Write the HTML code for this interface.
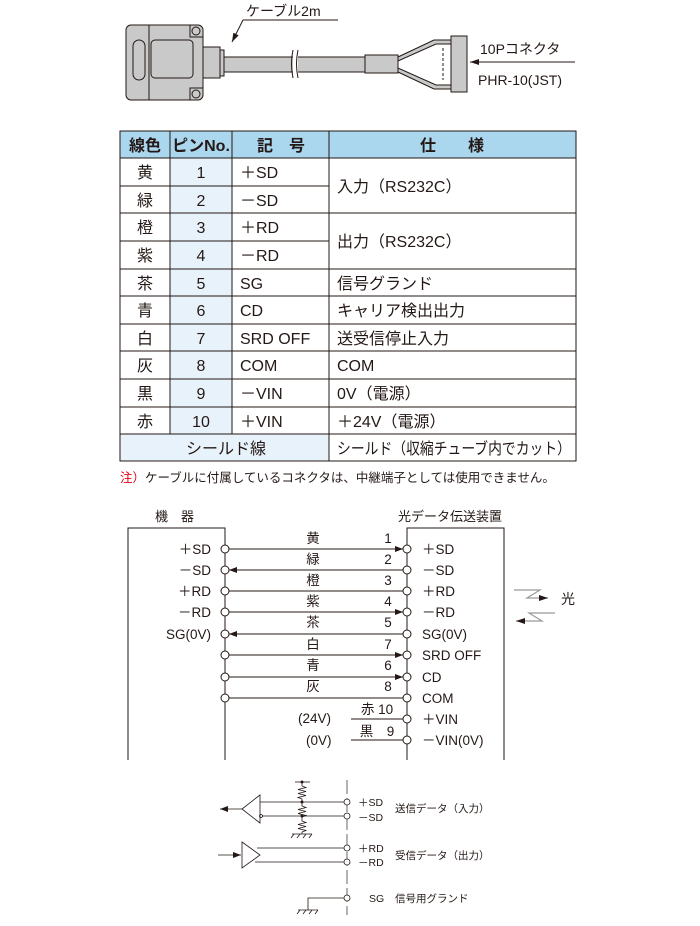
<!DOCTYPE html>
<html><head><meta charset="utf-8"><style>
html,body{margin:0;padding:0;background:#fff;}
svg{display:block;}
text{font-family:"Liberation Sans","Noto Sans CJK JP",sans-serif;fill:#231815;}
</style></head><body>
<svg width="700" height="926" viewBox="0 0 700 926" xmlns="http://www.w3.org/2000/svg">
<defs>
<marker id="ar" markerWidth="8" markerHeight="6" refX="8" refY="3" orient="auto" markerUnits="userSpaceOnUse"><path d="M0,0 L8,3 L0,6 z" fill="#231815"/></marker>
<marker id="ag" markerWidth="9" markerHeight="6" refX="9" refY="3" orient="auto" markerUnits="userSpaceOnUse"><path d="M0,0 L9,3 L0,6 z" fill="#231815"/></marker>
</defs>
<!-- top cable drawing -->
<g stroke="#231815" stroke-width="1">
<rect x="126" y="25" width="77" height="75" rx="5" fill="#c9c9c9"/>
<line x1="149" y1="25" x2="149" y2="100"/>
<rect x="151" y="40" width="42" height="38" rx="4" fill="#c9c9c9"/>
<rect x="133" y="40" width="12" height="40" rx="6" fill="#c9c9c9"/>
<circle cx="196" cy="31" r="4" fill="#c9c9c9"/><circle cx="196" cy="94" r="4" fill="#c9c9c9"/>
<path d="M190,25 v12 h13" fill="none"/><path d="M190,100 v-12 h13" fill="none"/>
<rect x="203" y="47" width="17" height="31" fill="#c9c9c9"/>
<rect x="220" y="50" width="4" height="26" fill="#c9c9c9"/>
<rect x="224" y="57" width="141" height="15" fill="#c9c9c9"/>
<rect x="365" y="55" width="33" height="18" fill="#c9c9c9"/>
<path d="M398,57 L434,40 L451,40 L451,44 L436,44 L398,61 z" fill="#c9c9c9"/>
<path d="M398,72 L434,89 L451,89 L451,85 L436,85 L398,68 z" fill="#c9c9c9"/>
<rect x="451" y="36" width="16" height="56" fill="#c9c9c9"/>
<line x1="443" y1="48" x2="443" y2="80" stroke-dasharray="3,2"/>
<line x1="243" y1="20" x2="338" y2="20"/>
<line x1="243" y1="20" x2="232" y2="42" marker-end="url(#ag)"/>
<line x1="575" y1="62" x2="470" y2="62" marker-end="url(#ag)"/>
</g>
<rect x="293" y="50" width="5" height="28" fill="#fff"/>
<path d="M293,50 q-3,14 0,28 M298,50 q-3,14 0,28" stroke="#231815" fill="none"/>
<text x="246" y="16" font-size="14">ケーブル2m</text>
<text x="480" y="54" font-size="14">10Pコネクタ</text>
<text x="478" y="85" font-size="14">PHR-10(JST)</text>

<!-- table -->
<rect x="120" y="131" width="456" height="27" fill="#aad6ee"/>
<rect x="170" y="158" width="62" height="276" fill="#e8f2fb"/>
<rect x="120" y="434" width="209" height="27" fill="#e8f2fb"/>
<g stroke="#231815" stroke-width="1" fill="none">
<rect x="120" y="131" width="456" height="330"/>
<line x1="170" y1="131" x2="170" y2="434"/>
<line x1="232" y1="131" x2="232" y2="434"/>
<line x1="329" y1="131" x2="329" y2="461"/>
<line x1="120" y1="158" x2="576" y2="158"/>
<line x1="120" y1="186" x2="329" y2="186"/>
<line x1="120" y1="213" x2="576" y2="213"/>
<line x1="120" y1="241" x2="329" y2="241"/>
<line x1="120" y1="269" x2="576" y2="269"/>
<line x1="120" y1="296" x2="576" y2="296"/>
<line x1="120" y1="324" x2="576" y2="324"/>
<line x1="120" y1="351" x2="576" y2="351"/>
<line x1="120" y1="379" x2="576" y2="379"/>
<line x1="120" y1="407" x2="576" y2="407"/>
<line x1="120" y1="434" x2="576" y2="434"/>
</g>
<g font-size="16">
<text x="145" y="151" text-anchor="middle" font-weight="bold">線色</text>
<text x="201" y="151" text-anchor="middle" font-weight="bold">ピンNo.</text>
<text x="281" y="151" text-anchor="middle" font-weight="bold">記　号</text>
<text x="452" y="151" text-anchor="middle" font-weight="bold">仕　　様</text>
</g>
<g font-size="16" text-anchor="middle">
<text x="145" y="178">黄</text><text x="201" y="178">1</text>
<text x="145" y="206">緑</text><text x="201" y="206">2</text>
<text x="145" y="233">橙</text><text x="201" y="233">3</text>
<text x="145" y="261">紫</text><text x="201" y="261">4</text>
<text x="145" y="289">茶</text><text x="201" y="289">5</text>
<text x="145" y="316">青</text><text x="201" y="316">6</text>
<text x="145" y="344">白</text><text x="201" y="344">7</text>
<text x="145" y="371">灰</text><text x="201" y="371">8</text>
<text x="145" y="399">黒</text><text x="201" y="399">9</text>
<text x="145" y="427">赤</text><text x="201" y="427">10</text>
<text x="226" y="454">シールド線</text>
</g>
<g font-size="16">
<text x="240" y="178">＋SD</text><text x="240" y="206">－SD</text>
<text x="240" y="233">＋RD</text><text x="240" y="261">－RD</text>
<text x="240" y="289">SG</text><text x="240" y="316">CD</text>
<text x="240" y="344">SRD OFF</text><text x="240" y="371">COM</text>
<text x="240" y="399">－VIN</text><text x="240" y="427">＋VIN</text>
<text x="337" y="192">入力（RS232C）</text>
<text x="337" y="247">出力（RS232C）</text>
<text x="337" y="289">信号グランド</text>
<text x="337" y="316">キャリア検出出力</text>
<text x="337" y="344">送受信停止入力</text>
<text x="337" y="371">COM</text>
<text x="337" y="399">0V（電源）</text>
<text x="337" y="427">＋24V（電源）</text>
<text x="337" y="454" textLength="234" lengthAdjust="spacingAndGlyphs">シールド（収縮チューブ内でカット）</text>
</g>
<text x="120" y="482" font-size="12.5"><tspan fill="#e60012" style="fill:#e60012">注）</tspan>ケーブルに付属しているコネクタは、中継端子としては使用できません。</text>

<!-- wiring diagram -->
<text x="155" y="521" font-size="13">機　器</text>
<text x="398" y="521" font-size="13">光データ伝送装置</text>
<g stroke="#231815" stroke-width="1" fill="none">
<path d="M128,760 V528 H225 V760"/>
<path d="M407,760 V528 H504 V760"/>
<line x1="229" y1="549" x2="403" y2="549" marker-end="url(#ar)"/>
<line x1="403" y1="570" x2="229" y2="570" marker-end="url(#ar)"/>
<line x1="229" y1="591" x2="403" y2="591"/>
<line x1="229" y1="612" x2="403" y2="612" marker-end="url(#ar)"/>
<line x1="403" y1="634" x2="229" y2="634" marker-end="url(#ar)"/>
<line x1="229" y1="655" x2="403" y2="655" marker-end="url(#ar)"/>
<line x1="229" y1="677" x2="403" y2="677" marker-end="url(#ar)"/>
<line x1="229" y1="698" x2="403" y2="698"/>
<line x1="351" y1="719" x2="403" y2="719"/>
<line x1="351" y1="740" x2="403" y2="740"/>
<g fill="#fff">
<circle cx="225" cy="549" r="4"/><circle cx="225" cy="570" r="4"/><circle cx="225" cy="591" r="4"/><circle cx="225" cy="612" r="4"/><circle cx="225" cy="634" r="4"/><circle cx="225" cy="655" r="4"/><circle cx="225" cy="677" r="4"/><circle cx="225" cy="698" r="4"/>
<circle cx="407" cy="549" r="4"/><circle cx="407" cy="570" r="4"/><circle cx="407" cy="591" r="4"/><circle cx="407" cy="612" r="4"/><circle cx="407" cy="634" r="4"/><circle cx="407" cy="655" r="4"/><circle cx="407" cy="677" r="4"/><circle cx="407" cy="698" r="4"/><circle cx="407" cy="719" r="4"/><circle cx="407" cy="740" r="4"/>
</g>
</g>
<g stroke="#999" stroke-width="1.2" fill="none">
<path d="M514,590 H540 L527,598 H548" marker-end="url(#ag)"/>
<path d="M555,613 H529 L542,621 H516" marker-end="url(#ag)"/>
</g>
<text x="561" y="604" font-size="14">光</text>
<g font-size="13.5" text-anchor="end">
<text x="211" y="554">＋SD</text><text x="211" y="575">－SD</text><text x="211" y="596">＋RD</text><text x="211" y="617">－RD</text><text x="211" y="639">SG(0V)</text>
</g>
<g font-size="13.5">
<text x="422" y="554">＋SD</text><text x="422" y="575">－SD</text><text x="422" y="596">＋RD</text><text x="422" y="617">－RD</text><text x="422" y="639">SG(0V)</text><text x="422" y="660">SRD OFF</text><text x="422" y="682">CD</text><text x="422" y="703">COM</text><text x="422" y="724">＋VIN</text><text x="422" y="745">－VIN(0V)</text>
<text x="298" y="723">(24V)</text><text x="306" y="745">(0V)</text>
</g>
<g font-size="13.5" text-anchor="middle">
<text x="313" y="543">黄</text><text x="313" y="564">緑</text><text x="313" y="585">橙</text><text x="313" y="606">紫</text><text x="313" y="627">茶</text><text x="313" y="649">白</text><text x="313" y="670">青</text><text x="313" y="691">灰</text>
<text x="388" y="543">1</text><text x="388" y="564">2</text><text x="388" y="585">3</text><text x="388" y="606">4</text><text x="388" y="627">5</text><text x="388" y="649">7</text><text x="388" y="670">6</text><text x="388" y="691">8</text>
<text x="377" y="714">赤 10</text><text x="377" y="736">黒　9</text>
</g>

<!-- bottom circuit -->
<line x1="347" y1="780" x2="347" y2="915" stroke="#999" stroke-width="1.5" stroke-dasharray="14,4"/>
<g stroke="#231815" stroke-width="0.8" fill="none">
<path d="M260,795 L242,809 L260,823 z"/>
<line x1="242" y1="809" x2="220" y2="809" marker-end="url(#ar)"/>
<line x1="260" y1="802" x2="344" y2="802"/>
<line x1="262" y1="816" x2="344" y2="816"/>
<circle cx="261" cy="816" r="1.5"/>
<line x1="295" y1="782" x2="310" y2="782"/>
<path d="M302,782 V786 l4,1.5 l-8,2 l8,2 l-8,2 l8,2 l-8,2 l4,1.5 V806 l4,1.5 l-8,2 l8,2 l-8,2 l8,2 l-4,1.5 V821 l4,1.5 l-8,2 l8,2 l-8,2 l8,2 l-4,1.5 V834"/>
<line x1="292" y1="834" x2="312" y2="834"/>
<path d="M294,834 l-3,4 M300,834 l-3,4 M306,834 l-3,4 M312,834 l-3,4"/>
<path d="M242,842 L260,855 L242,868 z"/>
<line x1="218" y1="855" x2="241" y2="855" marker-end="url(#ar)"/>
<line x1="257" y1="848" x2="344" y2="848"/>
<line x1="255" y1="862" x2="344" y2="862"/>
<path d="M344,898 H308 V910"/>
<line x1="298" y1="910" x2="318" y2="910"/>
<path d="M300,910 l-3,4 M306,910 l-3,4 M312,910 l-3,4 M318,910 l-3,4"/>
<g fill="#fff"><circle cx="347" cy="802" r="3"/><circle cx="347" cy="816" r="3"/><circle cx="347" cy="848" r="3"/><circle cx="347" cy="862" r="3"/><circle cx="347" cy="898" r="3"/></g>
</g>
<g fill="#231815"><circle cx="302" cy="782" r="1.5"/><circle cx="302" cy="802" r="1.5"/><circle cx="302" cy="816" r="1.5"/></g>
<g font-size="10.5">
<text x="358" y="806">＋SD</text><text x="358" y="821">－SD</text>
<text x="358" y="852">＋RD</text><text x="358" y="866">－RD</text>
<text x="369" y="902">SG</text>
<text x="395" y="812">送信データ（入力）</text>
<text x="395" y="859">受信データ（出力）</text>
<text x="395" y="902">信号用グランド</text>
</g>
</svg>
</body></html>
